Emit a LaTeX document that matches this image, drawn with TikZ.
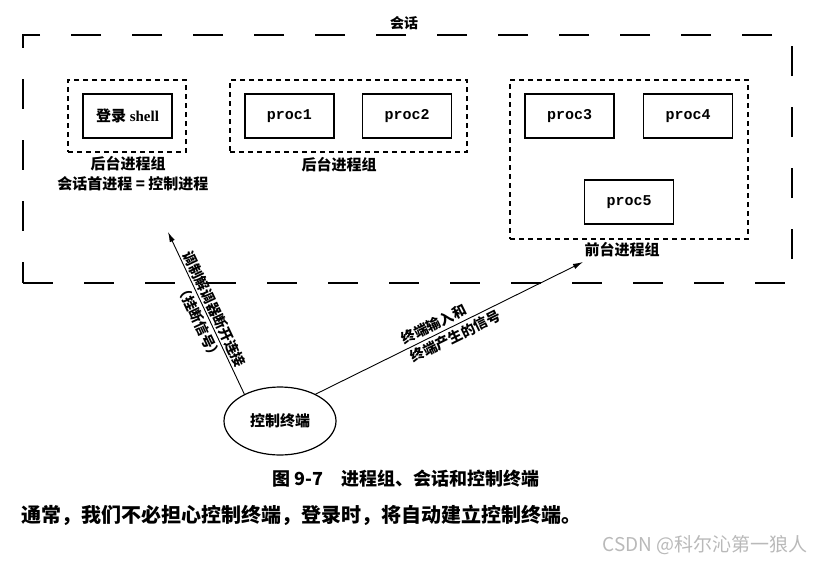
\documentclass[tikz,border=0pt]{standalone}
\usepackage{fontspec}
\setmainfont{Liberation Serif}
\newfontfamily\cjk{Noto Sans CJK SC}
\newfontfamily\procfont{Liberation Mono}
\usepackage{tikz}
\usetikzlibrary{
    positioning,
    arrows.meta,
    shapes.geometric,
}
\tikzset{
    % Basic node styles
    proc box/.style={rectangle, draw, line width=1.1pt, minimum width=89pt,
                     minimum height=44pt, inner sep=0pt,
                     font=\procfont\bfseries\fontsize{15}{15}\selectfont},
    group box/.style={rectangle, draw, dash pattern=on 5pt off 4pt,
                      line width=1.1pt, inner sep=0pt},
    session box/.style={rectangle, draw, dash pattern=on 30pt off 31pt,
                        line width=1.4pt, inner sep=0pt},
    terminal/.style={ellipse, draw, line width=1.2pt, minimum width=112pt,
                     minimum height=68pt, inner sep=0pt,
                     font=\cjk\bfseries\fontsize{15}{15}\selectfont},
    % Text styles
    group label/.style={font=\cjk\bfseries\fontsize{15}{15}\selectfont, inner sep=0pt},
    arrow label/.style={font=\cjk\bfseries\fontsize{14}{14}\selectfont,
                        inner sep=3pt, sloped},
    % Arrow styles
    arrow/.style={-{Latex[length=10pt, width=5.5pt]}, line width=0.9pt},
}

\begin{document}
\begin{tikzpicture}[x=1pt, y=-1pt]
    \useasboundingbox (0,0) rectangle (822,565);

    % Session
    \node[session box, minimum width=769pt, minimum height=248pt] (session) at (407.5,159) {};
    \node[group label, font=\cjk\bfseries\fontsize{14}{14}\selectfont] (sessionLbl) at (404,23) {会话};

    % Login shell group
    \node[group box, minimum width=118pt, minimum height=72pt] (grpLogin) at (127,116) {};
    \node[proc box, font=\bfseries\fontsize{15}{15}\selectfont] (shell) at (127.5,116) {{\cjk 登录} shell};
    \node[group label] (lblLogin) at (128,164) {后台进程组};
    \node[group label] (lblLeader) at (133,184) {会话首进程 = 控制进程};

    % Background group
    \node[group box, minimum width=237pt, minimum height=72pt] (grpBg) at (348.5,116) {};
    \node[proc box] (proc1) at (289.5,116) {proc1};
    \node[proc box] (proc2) at (407,116) {proc2};
    \node[group label] (lblBg) at (339,165) {后台进程组};

    % Foreground group
    \node[group box, minimum width=238pt, minimum height=159pt] (grpFg) at (629,159.5) {};
    \node[proc box] (proc3) at (569.5,116) {proc3};
    \node[proc box] (proc4) at (688,116) {proc4};
    \node[proc box] (proc5) at (629,202) {proc5};
    \node[group label] (lblFg) at (622,250) {前台进程组};

    % Controlling terminal
    \node[terminal] (term) at (280,421) {控制终端};
    \coordinate (hupTip) at (168,232);
    \coordinate (fgTip) at (583,262);

    % Arrows
    \draw[arrow] (term.143) -- (hupTip)
        node[arrow label, above, pos=0.5, inner sep=2pt] {调制解调器断开连接}
        node[arrow label, below, pos=0.47] {（挂断信号）};
    \draw[arrow] (term.37) -- (fgTip)
        node[arrow label, anchor=south west, pos=0.33] {终端输入和}
        node[arrow label, anchor=north west, pos=0.33] {终端产生的信号};

    % Caption and text
    \node[font=\cjk\bfseries\fontsize{18}{18}\selectfont] (caption) at (406,479) {图 9-7\quad 进程组、会话和控制终端};
    \node[anchor=west, inner sep=0pt, font=\cjk\bfseries\fontsize{20}{20}\selectfont] (note) at (21,515)
        {通常，我们不必担心控制终端，登录时，将自动建立控制终端。};
    \node[anchor=east, inner sep=0pt, text=gray!55, font=\cjk\fontsize{19}{19}\selectfont] (mark) at (808,545)
        {CSDN @科尔沁第一狼人};
\end{tikzpicture}
\end{document}
